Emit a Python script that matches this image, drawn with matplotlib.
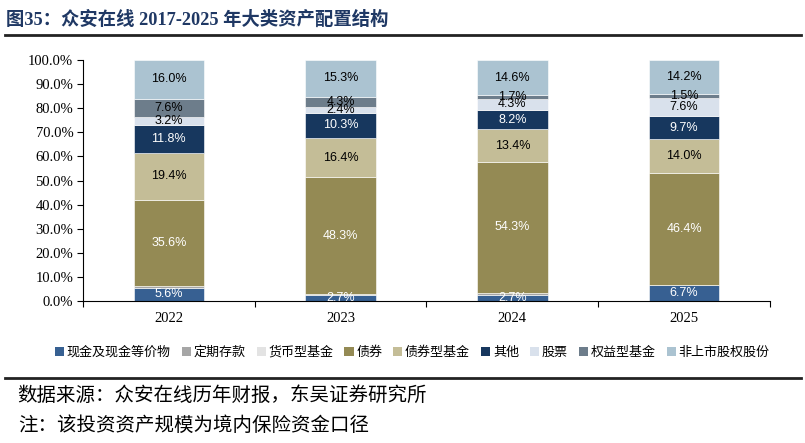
import matplotlib
matplotlib.use("Agg")
import matplotlib.pyplot as plt
from matplotlib.lines import Line2D
from matplotlib.patches import Patch
import numpy as np

# 年份与各类资产占比（%）
years = ["2022", "2023", "2024", "2025"]
series_names = ["现金及现金等价物", "定期存款", "货币型基金", "债券", "债券型基金",
                "其他", "股票", "权益型基金", "非上市股权股份"]
cash = [5.6, 2.7, 2.7, 6.7]
deposit = [0.8, 0.3, 0.5, 0.0]
money_fund = [0.0, 0.0, 0.3, 0.0]
bonds = [35.6, 48.3, 54.3, 46.4]
bond_fund = [19.4, 16.4, 13.4, 14.0]
other = [11.8, 10.3, 8.2, 9.7]
stocks = [3.2, 2.4, 4.3, 7.6]
equity_fund = [7.6, 4.3, 1.7, 1.5]
unlisted = [16.0, 15.3, 14.6, 14.2]

series = [cash, deposit, money_fund, bonds, bond_fund, other, stocks, equity_fund, unlisted]
colors = ["#376092", "#A6A6A6", "#E3E3E3", "#948A54", "#C4BD97",
          "#17375E", "#D9E1EC", "#6D7D8B", "#ABC3D1"]
show_label = [True, False, False, True, True, True, True, True, True]
label_color = ["white", None, None, "white", "black", "white", "black", "black", "black"]

fig = plt.figure(figsize=(8.05, 4.43), dpi=100)
ax = fig.add_axes([0.1031, 0.3205, 0.8534, 0.5441])

x = np.arange(len(years))
bottom = np.zeros(len(years))
for vals, c, show, lc in zip(series, colors, show_label, label_color):
    vals = np.array(vals)
    ax.bar(x, vals, 0.41, bottom=bottom, color=c, edgecolor="white", linewidth=0.4)
    if show:
        for xi, v, b in zip(x, vals, bottom):
            if v > 0:
                ax.text(xi, b + v / 2, f"{v:.1f}%", ha="center", va="center",
                        color=lc, fontsize=9, family="Liberation Sans")
    bottom += vals

ax.set_xlim(-0.5, 3.5)
ax.set_ylim(0, 100)
ax.set_yticks(np.arange(0, 101, 10))
ax.set_yticklabels([f"{v:.1f}%" for v in range(0, 101, 10)],
                   family="Liberation Serif", fontsize=10.5)
ax.set_xticks(np.arange(-0.5, 4, 1))
ax.set_xticklabels([])
ax.set_xticks(x, minor=True)
ax.set_xticklabels(years, minor=True, family="Liberation Serif", fontsize=10.5)
ax.tick_params(axis="x", which="minor", length=0, pad=8)
ax.tick_params(axis="x", which="major", length=4, width=0.8)
ax.tick_params(axis="y", length=4, width=0.8, pad=3)
for s in ["top", "right"]:
    ax.spines[s].set_visible(False)
ax.spines["left"].set_linewidth(0.8)
ax.spines["bottom"].set_linewidth(0.8)

handles = [Patch(facecolor=c, edgecolor="none") for c in colors]
fig.legend(handles, series_names, loc="center", bbox_to_anchor=(0.512, 0.205),
           ncol=9, frameon=False, handlelength=0.7, handleheight=0.7,
           handletextpad=0.2, columnspacing=0.85,
           prop={"family": "Noto Sans CJK SC", "size": 9.4})

# 标题与注释
fig.text(0.008, 0.955, "图35：众安在线 2017-2025 年大类资产配置结构",
         family=["Liberation Serif", "Noto Sans CJK SC"], fontweight="bold",
         fontsize=13.2, color="#1F3864", va="center")
fig.add_artist(Line2D([0.006, 0.995], [0.921, 0.921], color="#222222", lw=2))
fig.add_artist(Line2D([0.006, 0.995], [0.147, 0.147], color="#222222", lw=2))
fig.text(0.022, 0.107, "数据来源：众安在线历年财报，东吴证券研究所",
         family="Noto Sans CJK SC", fontsize=14, va="center")
fig.text(0.022, 0.040, "注：该投资资产规模为境内保险资金口径",
         family="Noto Sans CJK SC", fontsize=14, va="center")

fig.savefig("out.png", dpi=100)
